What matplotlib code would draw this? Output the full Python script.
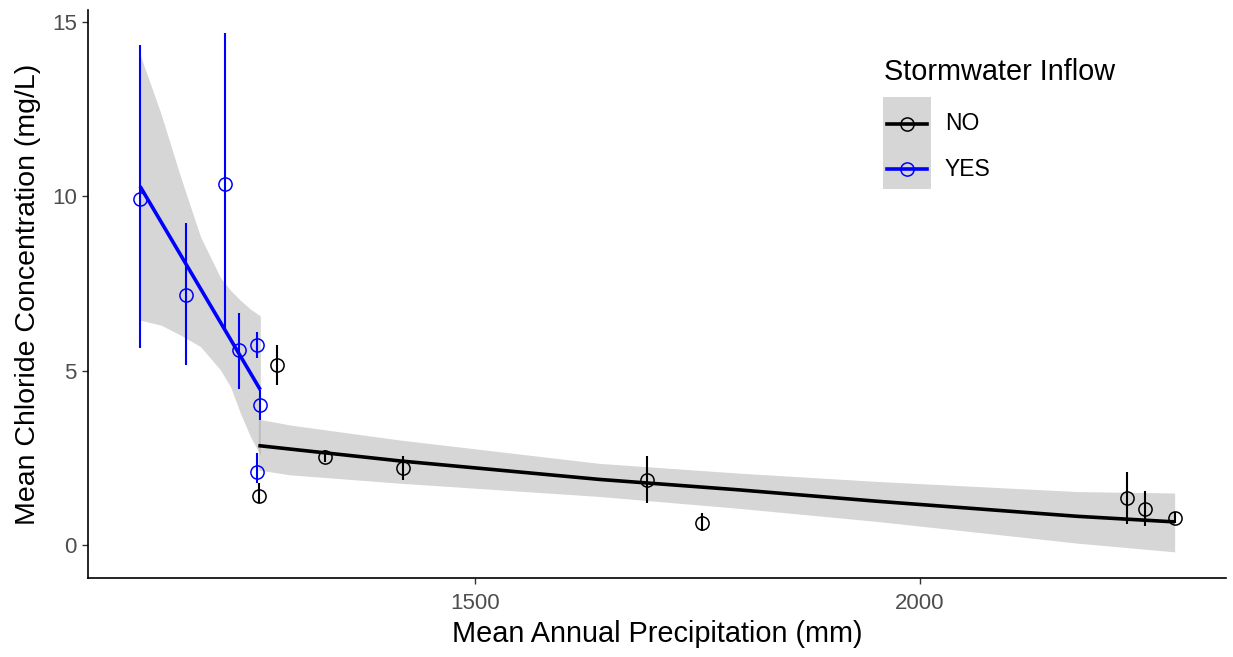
import matplotlib
matplotlib.use("Agg")
import matplotlib.pyplot as plt
from matplotlib.patches import Rectangle
from matplotlib.lines import Line2D

plt.rcParams["font.family"] = ["Liberation Sans", "DejaVu Sans"]

# site means with error bars, split by stormwater inflow
precip_no = [1256.8, 1277.4, 1331.5, 1419.2, 1693.5, 1755.1, 2232.9, 2252.7, 2286.3]
chloride_no = [1.39, 5.16, 2.53, 2.20, 1.86, 0.64, 1.34, 1.02, 0.78]
low_no = [1.20, 4.59, 2.39, 1.86, 1.21, 0.41, 0.60, 0.54, 0.62]
high_no = [1.78, 5.74, 2.72, 2.55, 2.55, 0.91, 2.10, 1.55, 0.95]

precip_yes = [1123.5, 1174.7, 1219.5, 1234.4, 1255.0, 1258.7, 1255.0]
chloride_yes = [9.94, 7.17, 10.35, 5.59, 5.74, 4.01, 2.10]
low_yes = [5.64, 5.16, 6.15, 4.46, 5.35, 3.58, 1.78]
high_yes = [14.34, 9.23, 14.69, 6.66, 6.12, 4.45, 2.64]

# fitted trend and confidence band for each group
fit_x_no = [1256.4, 1292.2, 1415.5, 1639.4, 1796.2, 1953.0, 2177.0, 2286.3]
fit_y_no = [2.85, 2.75, 2.41, 1.88, 1.58, 1.25, 0.82, 0.66]
band_lo_no = [2.15, 2.01, 1.77, 1.39, 1.05, 0.67, 0.05, -0.20]
band_hi_no = [3.61, 3.44, 3.01, 2.34, 2.06, 1.82, 1.53, 1.49]

fit_x_yes = [1123.5, 1258.7]
fit_y_yes = [10.29, 4.45]
band_x_yes = [1123.5, 1146.7, 1169.1, 1191.5, 1213.9, 1225.1, 1236.3, 1247.5, 1258.7]
band_lo_yes = [6.45, 6.31, 6.02, 5.69, 5.02, 4.54, 3.78, 3.11, 2.58]
band_hi_yes = [14.07, 12.40, 10.56, 8.84, 7.67, 7.31, 7.02, 6.77, 6.57]

groups = ["NO", "YES"]
colors = {"NO": "black", "YES": "#0000FF"}
BAND = "#999999"

W, H = 1233, 657
fig = plt.figure(figsize=(W / 100, H / 100), dpi=100)
ax = fig.add_axes([88 / W, 1 - 578 / H, (1226 - 88) / W, (578 - 10) / H])

ax.fill_between(fit_x_no, band_lo_no, band_hi_no, color=BAND, alpha=0.4, lw=0)
ax.fill_between(band_x_yes, band_lo_yes, band_hi_yes, color=BAND, alpha=0.4, lw=0)
ax.plot(fit_x_no, fit_y_no, color=colors["NO"], lw=2.6, solid_capstyle="butt")
ax.plot(fit_x_yes, fit_y_yes, color=colors["YES"], lw=2.6, solid_capstyle="butt")

for x, y, lo, hi, g in [(precip_no, chloride_no, low_no, high_no, "NO"),
                        (precip_yes, chloride_yes, low_yes, high_yes, "YES")]:
    ax.vlines(x, lo, hi, color=colors[g], lw=1.5)
    ax.plot(x, y, "o", mfc="none", mec=colors[g], ms=9.5, mew=1.1, ls="none")

ax.set_xlim(1065, 2344)
ax.set_ylim(-0.95, 15.35)
ax.set_xticks([1500, 2000])
ax.set_yticks([0, 5, 10, 15])
for side in ["top", "right"]:
    ax.spines[side].set_visible(False)
for side in ["left", "bottom"]:
    ax.spines[side].set_linewidth(1.2)
ax.tick_params(length=4, width=1, color="#333333", labelcolor="#4D4D4D",
               labelsize=16)
ax.tick_params(axis="x", pad=7)
ax.tick_params(axis="y", pad=4)
ax.set_xlabel("Mean Annual Precipitation (mm)", fontsize=20.8, labelpad=4)
ax.set_ylabel("Mean Chloride Concentration (mg/L)", fontsize=20.5, labelpad=8)

# legend drawn by hand in figure pixels
def fx(px):
    return px / W


def fy(py):
    return 1 - py / H


fig.text(fx(884), fy(72), "Stormwater Inflow", fontsize=20.8, va="center", ha="left")
fig.add_artist(Rectangle((fx(883), fy(189)), fx(48), 92 / H,
                         transform=fig.transFigure, facecolor=BAND, alpha=0.4,
                         lw=0))
for g, py in zip(groups, [124, 169]):
    fig.add_artist(Line2D([fx(887), fx(927)], [fy(py), fy(py)],
                          transform=fig.transFigure, color=colors[g], lw=2.6))
    fig.add_artist(Line2D([fx(907)], [fy(py)], transform=fig.transFigure,
                          marker="o", mfc="none", mec=colors[g], ms=9.5, mew=1.1))
    fig.text(fx(945), fy(py), g, fontsize=16.5, va="center", ha="left")

fig.savefig("out.png", dpi=100)
